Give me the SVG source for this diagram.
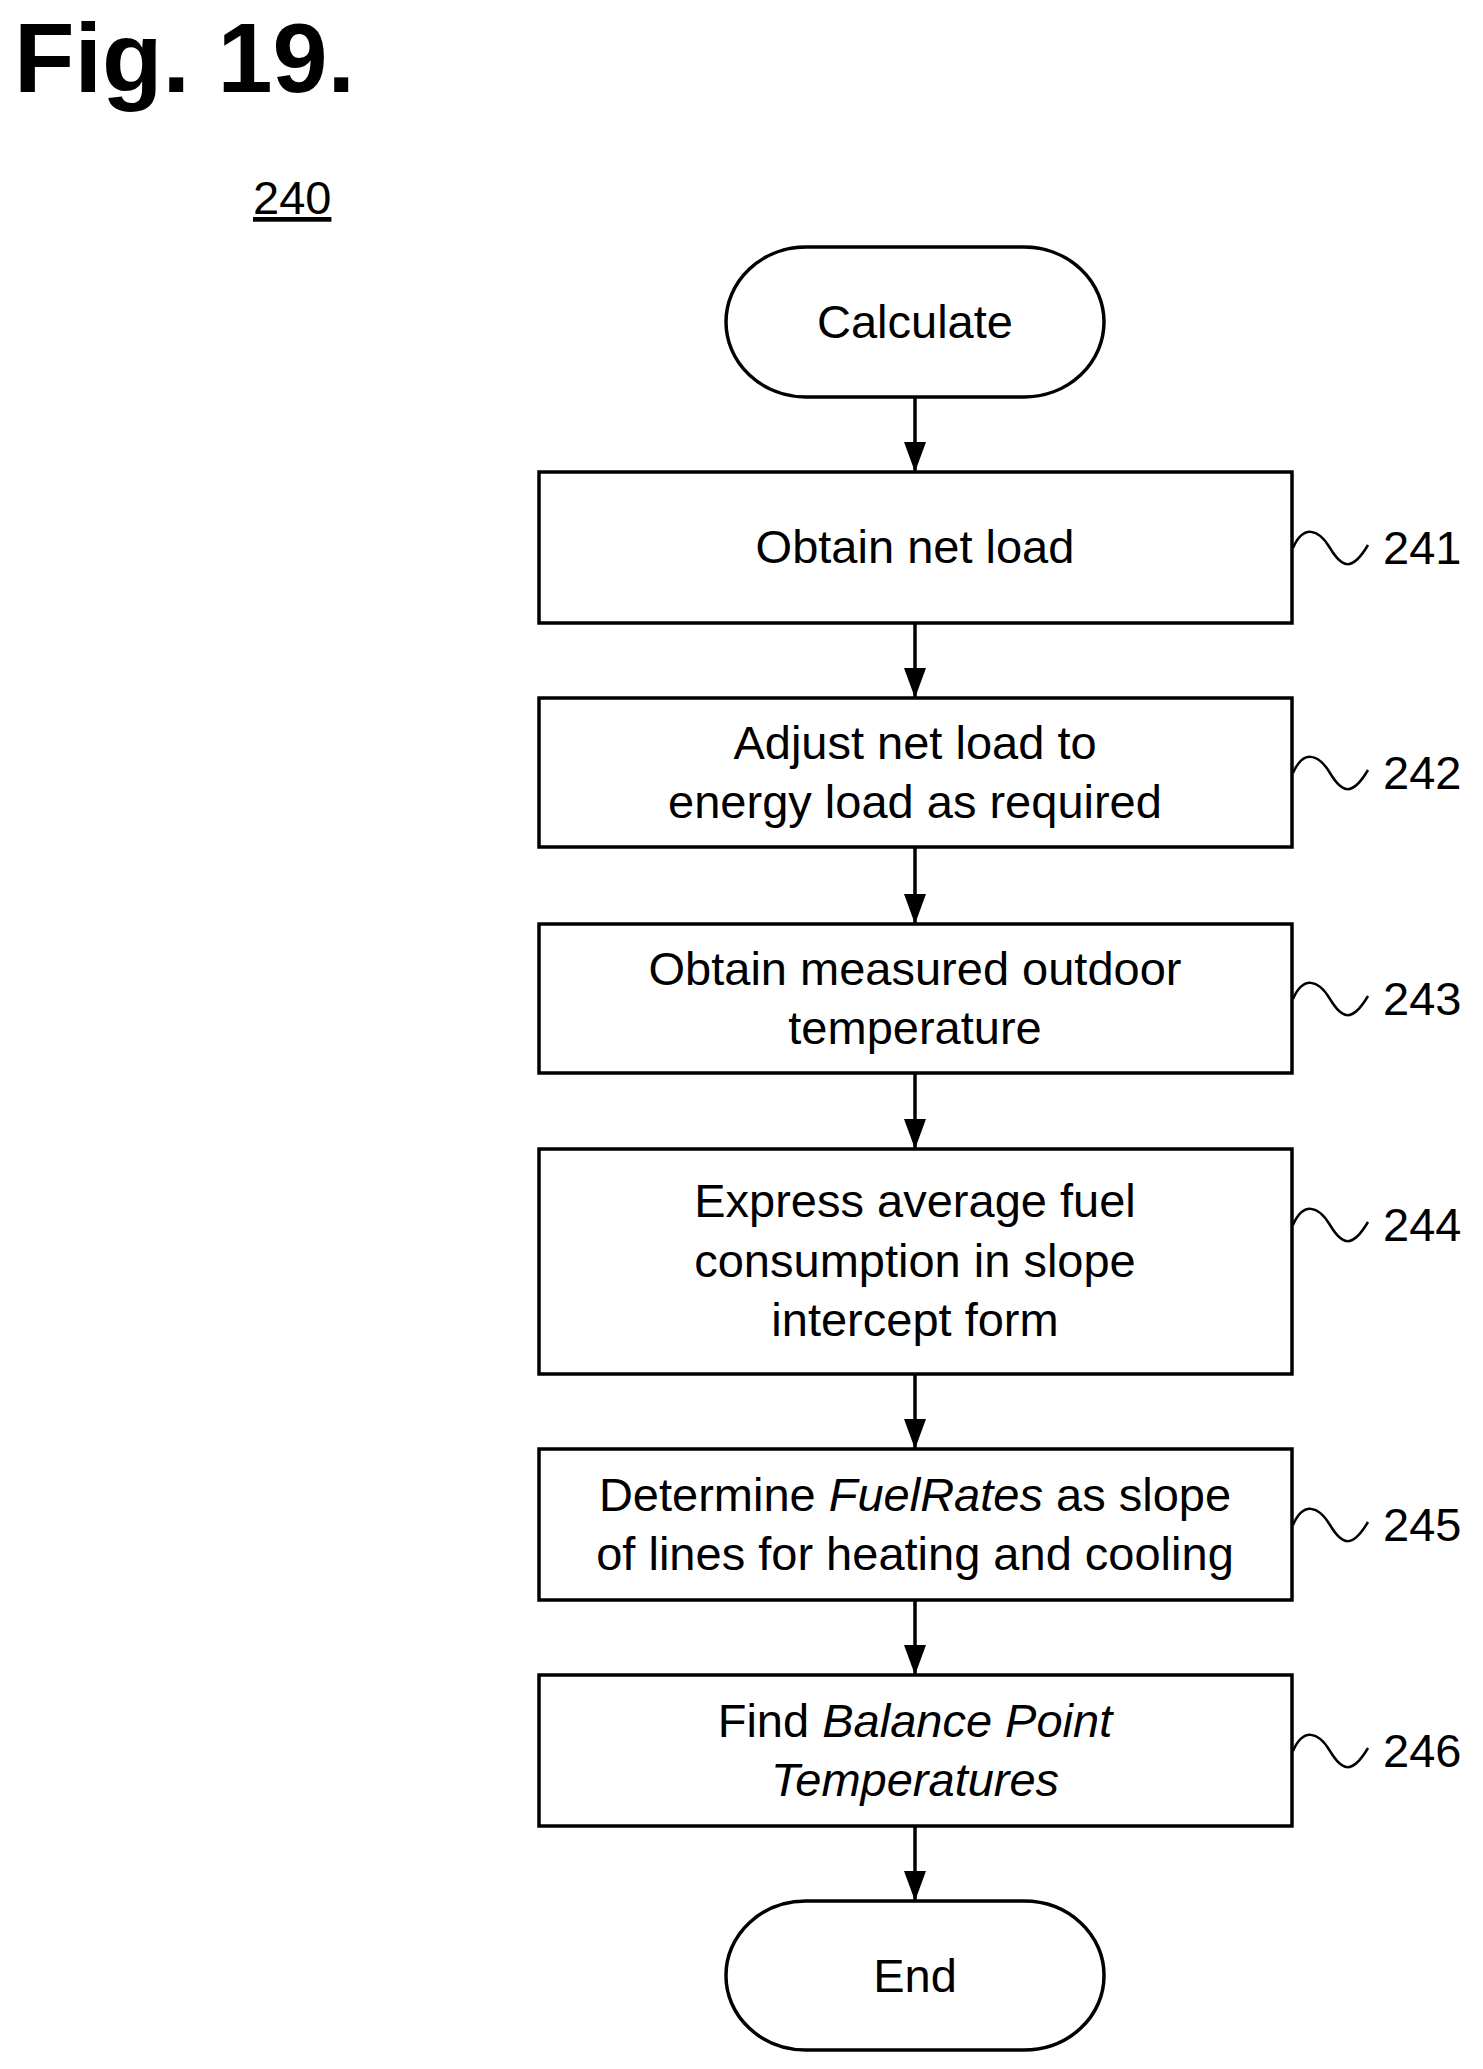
<svg xmlns="http://www.w3.org/2000/svg" width="1483" height="2069" viewBox="0 0 1483 2069">
<style>
.b{fill:#fff;stroke:#000;stroke-width:3.5}
.t{font-family:"Liberation Sans",Arial,sans-serif;font-size:47px;text-anchor:middle;fill:#000}
.n{font-family:"Liberation Sans",Arial,sans-serif;font-size:47px;fill:#000}
.c{stroke:#000;stroke-width:3.5;fill:none}
.w{stroke:#000;stroke-width:2.5;fill:none}
</style>
<defs><marker id="a" markerWidth="22" markerHeight="30" refX="11" refY="30" orient="auto-start-reverse" markerUnits="userSpaceOnUse" viewBox="0 0 22 30"><path d="M0,0 L22,0 L11,30 Z" fill="#000" transform="rotate(0)"/></marker></defs>
<rect width="1483" height="2069" fill="#fff"/>
<text x="14" y="92" font-family="Liberation Sans,Arial,sans-serif" font-weight="bold" font-size="99">Fig. 19.</text>
<text x="253" y="214" class="n" font-size="46" text-decoration="underline">240</text>
<g id="connectors">
<line class="c" x1="915" y1="397" x2="915" y2="472"/><path d="M904,442 L926,442 L915,472 Z"/>
<line class="c" x1="915" y1="623" x2="915" y2="698"/><path d="M904,668 L926,668 L915,698 Z"/>
<line class="c" x1="915" y1="847" x2="915" y2="924"/><path d="M904,894 L926,894 L915,924 Z"/>
<line class="c" x1="915" y1="1073" x2="915" y2="1149"/><path d="M904,1119 L926,1119 L915,1149 Z"/>
<line class="c" x1="915" y1="1374" x2="915" y2="1449"/><path d="M904,1419 L926,1419 L915,1449 Z"/>
<line class="c" x1="915" y1="1600" x2="915" y2="1675"/><path d="M904,1645 L926,1645 L915,1675 Z"/>
<line class="c" x1="915" y1="1826" x2="915" y2="1901"/><path d="M904,1871 L926,1871 L915,1901 Z"/>
</g>
<g id="start"><rect class="b" x="726" y="247" width="378" height="150" rx="80" ry="75"/><text class="t" x="915" y="338">Calculate</text></g>
<g id="n241"><rect class="b" x="539" y="472" width="753" height="151"/><text class="t" x="915" y="563">Obtain net load</text>
<path class="w" d="M1293,548 C1303,525 1318,528 1330,548 S1352,572 1368,545"/><text class="n" x="1383" y="564">241</text></g>
<g id="n242"><rect class="b" x="539" y="698" width="753" height="149"/><text class="t" x="915" y="759">Adjust net load to</text><text class="t" x="915" y="818">energy load as required</text>
<path class="w" d="M1293,773 C1303,750 1318,753 1330,773 S1352,797 1368,770"/><text class="n" x="1383" y="789">242</text></g>
<g id="n243"><rect class="b" x="539" y="924" width="753" height="149"/><text class="t" x="915" y="985">Obtain measured outdoor</text><text class="t" x="915" y="1044">temperature</text>
<path class="w" d="M1293,999 C1303,976 1318,979 1330,999 S1352,1023 1368,996"/><text class="n" x="1383" y="1015">243</text></g>
<g id="n244"><rect class="b" x="539" y="1149" width="753" height="225"/><text class="t" x="915" y="1217">Express average fuel</text><text class="t" x="915" y="1277">consumption in slope</text><text class="t" x="915" y="1336">intercept form</text>
<path class="w" d="M1293,1225 C1303,1202 1318,1205 1330,1225 S1352,1249 1368,1222"/><text class="n" x="1383" y="1241">244</text></g>
<g id="n245"><rect class="b" x="539" y="1449" width="753" height="151"/><text class="t" x="915" y="1511">Determine <tspan font-style="italic">FuelRates</tspan> as slope</text><text class="t" x="915" y="1570">of lines for heating and cooling</text>
<path class="w" d="M1293,1525 C1303,1502 1318,1505 1330,1525 S1352,1549 1368,1522"/><text class="n" x="1383" y="1541">245</text></g>
<g id="n246"><rect class="b" x="539" y="1675" width="753" height="151"/><text class="t" x="915" y="1737">Find <tspan font-style="italic">Balance Point</tspan></text><text class="t" x="915" y="1796" font-style="italic">Temperatures</text>
<path class="w" d="M1293,1751 C1303,1728 1318,1731 1330,1751 S1352,1775 1368,1748"/><text class="n" x="1383" y="1767">246</text></g>
<g id="end"><rect class="b" x="726" y="1901" width="378" height="149" rx="80" ry="74"/><text class="t" x="915" y="1992">End</text></g>
</svg>
